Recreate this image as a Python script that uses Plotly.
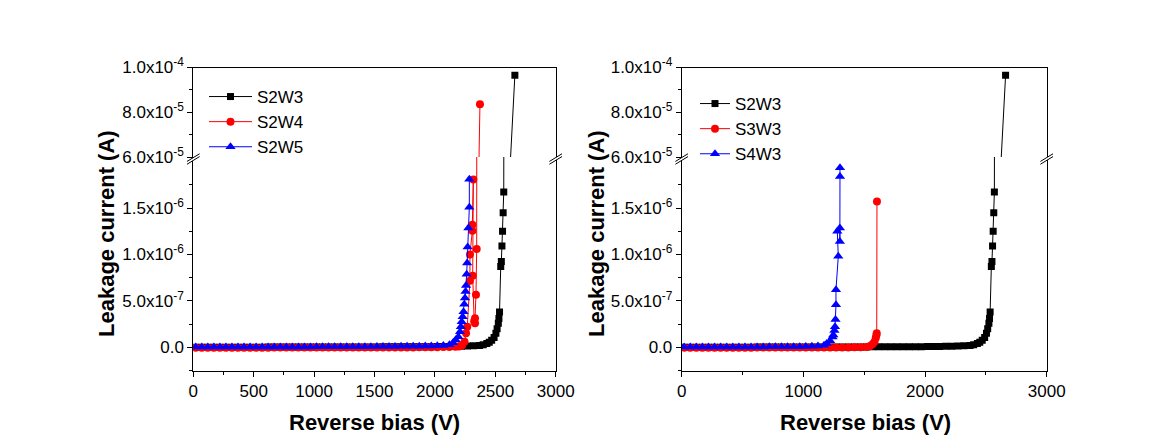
import plotly.graph_objects as go

# ---------------- data (current values in nA) ----------------
s2w3_v = [20, 70, 120, 170, 220, 270, 320, 370, 420, 470,
          520, 570, 620, 670, 720, 770, 820, 870, 920, 970,
          1020, 1070, 1120, 1170, 1220, 1270, 1320, 1370, 1420, 1470,
          1520, 1570, 1620, 1670, 1720, 1770, 1820, 1870, 1920, 1970,
          2020, 2070, 2120, 2170, 2220, 2270, 2320, 2370, 2400, 2430,
          2450, 2470, 2490, 2505, 2515, 2525, 2530, 2535, 2545, 2550,
          2555, 2560, 2565, 2570, 2662]
s2w3_i = [0, 0, 1, 1, 1, 1, 1, 1, 1, 1,
          1, 1, 2, 2, 2, 2, 2, 2, 2, 2,
          3, 3, 3, 3, 3, 3, 4, 4, 4, 4,
          4, 5, 5, 5, 5, 6, 6, 6, 7, 7,
          8, 8, 9, 10, 11, 13, 16, 20, 28, 40,
          55, 75, 105, 150, 200, 260, 310, 380, 870, 925,
          1090, 1250, 1450, 1674, 96500]

s2w4_v = [20, 70, 120, 170, 220, 270, 320, 370, 420, 470,
          520, 570, 620, 670, 720, 770, 820, 870, 920, 970,
          1020, 1070, 1120, 1170, 1220, 1270, 1320, 1370, 1420, 1470,
          1520, 1570, 1620, 1670, 1720, 1770, 1820, 1870, 1920, 1970,
          2020, 2070, 2120, 2170, 2200, 2225, 2245, 2258, 2268, 2290,
          2290, 2310, 2310, 2318, 2313, 2325, 2332, 2332, 2340, 2346,
          2373]
s2w4_i = [-5, -5, -4, -4, -4, -4, -4, -4, -4, -4,
          -4, -4, -4, -3, -3, -3, -3, -3, -3, -3,
          -3, -3, -3, -3, -2, -2, -2, -2, -2, -2,
          -2, -2, -1, -1, -1, -1, -1, 0, 0, 0,
          1, 2, 3, 5, 8, 20, 60, 150, 220, 716,
          1000, 1256, 1320, 1807, 770, 280, 260, 313, 565, 1060,
          83600]

s2w5_v = [20, 70, 120, 170, 220, 270, 320, 370, 420, 470,
          520, 570, 620, 670, 720, 770, 820, 870, 920, 970,
          1020, 1070, 1120, 1170, 1220, 1270, 1320, 1370, 1420, 1470,
          1520, 1570, 1620, 1670, 1720, 1770, 1820, 1870, 1920, 1970,
          2020, 2070, 2120, 2150, 2172, 2194, 2208, 2215, 2222, 2230,
          2237, 2243, 2249, 2254, 2258, 2263, 2267, 2271, 2277, 2285,
          2285]
s2w5_i = [2, 2, 2, 2, 2, 2, 3, 3, 3, 3,
          3, 3, 3, 3, 4, 4, 4, 4, 4, 4,
          5, 5, 5, 5, 6, 6, 6, 7, 7, 7,
          8, 8, 9, 9, 10, 10, 11, 12, 13, 14,
          16, 20, 28, 50, 80, 114, 168, 220, 276, 330,
          384, 464, 530, 600, 665, 788, 907, 1080, 1285, 1510,
          1810]

s3w3_v = [20, 70, 120, 170, 220, 270, 320, 370, 420, 470,
          520, 570, 620, 670, 720, 770, 820, 870, 920, 970,
          1020, 1070, 1120, 1170, 1220, 1270, 1320, 1370, 1420, 1470,
          1520, 1548, 1570, 1585, 1595, 1600, 1603, 1605]
s3w3_i = [-5, -5, -5, -4, -4, -4, -4, -4, -4, -4,
          -4, -4, -3, -3, -3, -3, -3, -3, -3, -3,
          -2, -2, -2, -2, -2, -1, -1, -1, 0, 0,
          2, 15, 35, 60, 100, 130, 150, 1570]

s4w3_v = [20, 70, 120, 170, 220, 270, 320, 370, 420, 470,
          520, 570, 620, 670, 720, 770, 820, 870, 920, 970,
          1020, 1070, 1120, 1170, 1192, 1220, 1240, 1246, 1255, 1260,
          1264, 1268, 1268, 1287, 1279, 1300, 1300, 1301, 1301]
s4w3_i = [2, 2, 2, 2, 3, 3, 3, 3, 3, 3,
          4, 4, 4, 4, 5, 5, 5, 6, 6, 7,
          8, 10, 14, 22, 40, 70, 110, 133, 180, 220,
          300, 457, 620, 980, 1250, 1285, 1140, 1840, 1933]

left_names = ["S2W3", "S2W4", "S2W5"]
right_names = ["S2W3", "S3W3", "S4W3"]

low_tickvals = [0, 5e-7, 1e-6, 1.5e-6]
low_ticktext = ["0.0", "5.0x10<sup>-7</sup>", "1.0x10<sup>-6</sup>", "1.5x10<sup>-6</sup>"]
low_minor = [-2.5e-7, 2.5e-7, 7.5e-7, 1.25e-6, 1.75e-6]
up_tickvals = [6e-5, 8e-5, 1e-4]
up_ticktext = ["6.0x10<sup>-5</sup>", "8.0x10<sup>-5</sup>", "1.0x10<sup>-4</sup>"]
up_minor = [7e-5, 9e-5]
left_xticks = [0, 500, 1000, 1500, 2000, 2500, 3000]
left_xminor = [250, 750, 1250, 1750, 2250, 2750]
right_xticks = [0, 1000, 2000, 3000]
right_xminor = [500, 1500, 2500]

# ---------------- layout geometry ----------------
W, H = 1163, 447
def px(x):
    return x / W
def py(y):
    return 1 - y / H

FONT = "Liberation Sans, Arial, sans-serif"
xdom_l = [px(193.3), px(555.7)]
xdom_r = [px(681.7), px(1046.7)]
ydom_low = [py(370.5), py(157)]
ydom_up = [py(157), py(67.5)]

fig = go.Figure()

styles = [("#000000", "square", 7), ("#FF0000", "circle", 8), ("#0000FF", "triangle-up", 9)]

def add_series(v, i, name, style, xl, yl, xu, yu, legend):
    color, sym, size = style
    yv = [c * 1e-9 for c in i]
    common = dict(mode="lines+markers", line=dict(color=color, width=1),
                  marker=dict(symbol=sym, size=size, color=color, line=dict(width=0)))
    fig.add_trace(go.Scatter(x=v, y=yv, xaxis=xl, yaxis=yl, name=name, legend=legend, **common))
    fig.add_trace(go.Scatter(x=v, y=yv, xaxis=xu, yaxis=yu, name=name, showlegend=False, **common))

left_data = [(s2w3_v, s2w3_i), (s2w4_v, s2w4_i), (s2w5_v, s2w5_i)]
right_data = [(s2w3_v, s2w3_i), (s3w3_v, s3w3_i), (s4w3_v, s4w3_i)]
for (v, i), n, st in zip(left_data, left_names, styles):
    add_series(v, i, n, st, "x", "y", "x2", "y2", "legend")
for (v, i), n, st in zip(right_data, right_names, styles):
    add_series(v, i, n, st, "x3", "y3", "x4", "y4", "legend2")

tickfont = dict(family=FONT, size=17, color="black")

def xaxis_low(dom, anchor, tv, mv):
    return dict(domain=dom, anchor=anchor, range=[0, 3000], tickmode="array", tickvals=tv,
                ticktext=[str(t) for t in tv], ticks="outside", ticklen=5, tickcolor="black",
                minor=dict(tickvals=mv, ticks="outside", ticklen=3, tickcolor="black"),
                showline=True, linecolor="black", linewidth=1, showgrid=False, zeroline=False,
                tickfont=tickfont, automargin=False)

def xaxis_up(dom, anchor):
    return dict(domain=dom, anchor=anchor, range=[0, 3000], side="top", showline=True,
                linecolor="black", linewidth=1, showticklabels=False, ticks="",
                showgrid=False, zeroline=False, automargin=False)

def yaxis(dom, anchor, rng, tv, tt, mv):
    return dict(domain=dom, anchor=anchor, range=rng, tickmode="array", tickvals=tv, ticktext=tt,
                ticks="outside", ticklen=5, tickcolor="black",
                minor=dict(tickvals=mv, ticks="outside", ticklen=3, tickcolor="black"),
                showline=True, mirror=True, linecolor="black", linewidth=1,
                showgrid=False, zeroline=False, tickfont=tickfont, automargin=False)

low_range = [-2.5e-7, 2.05e-6]
up_range = [6e-5, 1e-4]

fig.update_layout(
    template="none",
    width=W, height=H, autosize=False,
    margin=dict(l=0, r=0, t=0, b=0, pad=0, autoexpand=False),
    paper_bgcolor="white", plot_bgcolor="white",
    font=dict(family=FONT, color="black"),
    xaxis=xaxis_low(xdom_l, "y", left_xticks, left_xminor),
    yaxis=yaxis(ydom_low, "x", low_range, low_tickvals, low_ticktext, low_minor),
    xaxis2=xaxis_up(xdom_l, "y2"),
    yaxis2=yaxis(ydom_up, "x2", up_range, up_tickvals, up_ticktext, up_minor),
    xaxis3=xaxis_low(xdom_r, "y3", right_xticks, right_xminor),
    yaxis3=yaxis(ydom_low, "x3", low_range, low_tickvals, low_ticktext, low_minor),
    xaxis4=xaxis_up(xdom_r, "y4"),
    yaxis4=yaxis(ydom_up, "x4", up_range, up_tickvals, up_ticktext, up_minor),
    legend=dict(x=px(204), y=py(79), xanchor="left", yanchor="top", itemwidth=43,
                bgcolor="rgba(0,0,0,0)", font=dict(family=FONT, size=17, color="black"),
                tracegroupgap=0),
    legend2=dict(x=px(695), y=py(86), xanchor="left", yanchor="top",
                 bgcolor="rgba(0,0,0,0)", font=dict(family=FONT, size=17, color="black"),
                 tracegroupgap=0),
    showlegend=True,
)

# axis titles
title_font = dict(family=FONT, size=22, color="black")
annots = [
    dict(text="<b>Leakage current (A)</b>", x=px(106), y=py(234), textangle=-90),
    dict(text="<b>Leakage current (A)</b>", x=px(596), y=py(234), textangle=-90),
    dict(text="<b>Reverse bias (V)</b>", x=px(374), y=py(422), textangle=0),
    dict(text="<b>Reverse bias (V)</b>", x=px(865), y=py(422), textangle=0),
]
for a in annots:
    fig.add_annotation(xref="paper", yref="paper", xanchor="center", yanchor="middle",
                       showarrow=False, font=title_font, **a)

# axis break marks
def break_mark(cx, cy):
    hw, hd, off = 6.3, 3.85, 1.4
    p1 = (cx - hw, cy - off + hd); p2 = (cx + hw, cy - off - hd)
    p3 = (cx + hw, cy + off - hd); p4 = (cx - hw, cy + off + hd)
    def pt(p):
        return f"{px(p[0])},{py(p[1])}"
    fig.add_shape(type="path", xref="paper", yref="paper",
                  path=f"M {pt(p1)} L {pt(p2)} L {pt(p3)} L {pt(p4)} Z",
                  fillcolor="white", line=dict(width=0))
    fig.add_shape(type="line", xref="paper", yref="paper", x0=px(p1[0]), y0=py(p1[1]),
                  x1=px(p2[0]), y1=py(p2[1]), line=dict(color="black", width=1))
    fig.add_shape(type="line", xref="paper", yref="paper", x0=px(p4[0]), y0=py(p4[1]),
                  x1=px(p3[0]), y1=py(p3[1]), line=dict(color="black", width=1))

for cx in (193.3, 555.7, 681.7, 1046.7):
    break_mark(cx, 159)

fig.write_html("out.html", config={"displayModeBar": False},
               post_script="document.body.style.margin='0';")
